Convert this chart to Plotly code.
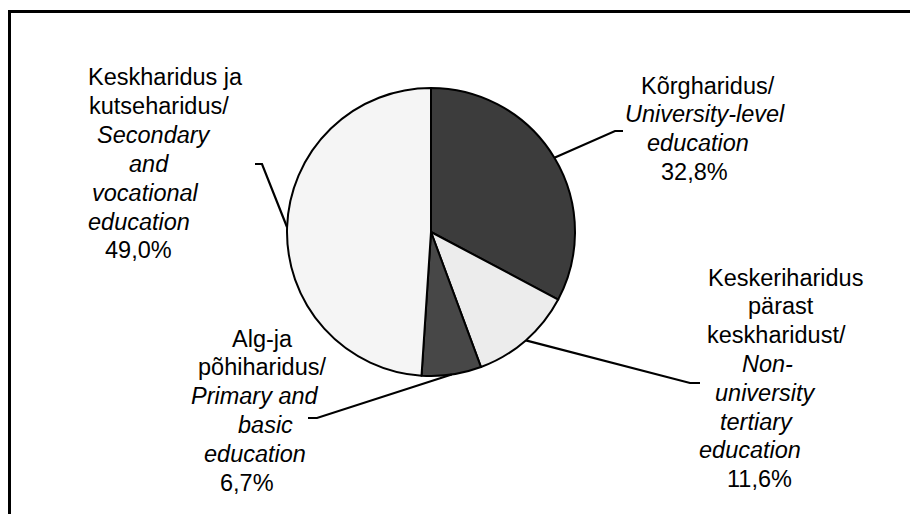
import math
import plotly.graph_objects as go

# ---- data ----
categories = [
    "Kõrgharidus/University-level education",
    "Keskeriharidus pärast keskharidust/Non-university tertiary education",
    "Alg-ja põhiharidus/Primary and basic education",
    "Keskharidus ja kutseharidus/Secondary and vocational education",
]
values = [32.8, 11.6, 6.7, 49.0]
value_labels = ["32,8%", "11,6%", "6,7%", "49,0%"]
label_lines = [
    ["Kõrgharidus/", "<i>University-level</i>", "<i>education</i>"],
    ["Keskeriharidus", "pärast", "keskharidust/", "<i>Non-</i>", "<i>university</i>",
     "<i>tertiary</i>", "<i>education</i>"],
    ["Alg-ja", "põhiharidus/", "<i>Primary and</i>", "<i>basic</i>", "<i>education</i>"],
    ["Keskharidus ja", "kutseharidus/", "<i>Secondary</i>", "<i>and</i>", "<i>vocational</i>",
     "<i>education</i>"],
]
colors = ["#3c3c3c", "#ececec", "#474747", "#f5f5f5"]

# ---- layout constants (pixels, in page coordinates) ----
W, H = 918, 514
OFF = 8  # page body margin offset
CX, CY, R = 431, 232, 144
FONT = "Liberation Sans, Arial, sans-serif"
FS = 23.5
LINE_H = 28.8
# per label: first-line baseline y, x-centers of each line (incl. value line)
label_pos = [
    (93, [708, 705, 698, 694]),
    (285, [785, 781, 776, 767, 765, 756, 750, 759]),
    (346, [262, 262, 255, 265, 255, 247]),
    (85, [165, 159, 154, 149, 145, 139, 138]),
]
# leader elbows: (elbow point, end point)
leaders = [
    ((615, 131), (623, 131)),
    ((690, 383), (700, 383)),
    ((317, 418), (308, 418)),
    ((262, 164), (255, 164)),
]


def px(x):
    return (x - OFF) / W


def py(y):
    return 1 - (y - OFF) / H


fig = go.Figure(go.Pie(
    labels=categories,
    values=values,
    sort=False,
    direction="clockwise",
    rotation=0,
    textinfo="none",
    hoverinfo="label+percent",
    marker=dict(colors=colors, line=dict(color="black", width=2)),
    domain=dict(x=[px(CX - R), px(CX + R)], y=[py(CY + R), py(CY - R)]),
    showlegend=False,
))

annotations = []
shapes = []
total = sum(values)
cum = 0.0
for i, v in enumerate(values):
    mid = (cum + v / 2) / total * 2 * math.pi
    cum += v
    ex = CX + R * math.sin(mid)
    ey = CY - R * math.cos(mid)
    (bx, by), (tx, ty) = leaders[i]
    shapes.append(dict(
        type="path", xref="paper", yref="paper",
        path=f"M {px(ex)},{py(ey)} L {px(bx)},{py(by)} L {px(tx)},{py(ty)}",
        line=dict(color="black", width=2.2),
    ))
    base, xs = label_pos[i]
    lines = label_lines[i] + [value_labels[i]]
    for j, t in enumerate(lines):
        yb = base + j * LINE_H
        annotations.append(dict(
            x=px(xs[j]), y=py(yb - 7.5), xref="paper", yref="paper",
            text=t, showarrow=False, xanchor="center", yanchor="middle",
            font=dict(family=FONT, size=FS, color="black"),
        ))

# chart border (cut off at the right and bottom)
shapes.append(dict(
    type="rect", xref="paper", yref="paper",
    x0=px(9.5), x1=px(W + 30), y0=py(H + 30), y1=py(11.5),
    line=dict(color="black", width=3), fillcolor="rgba(0,0,0,0)",
))

fig.update_layout(
    width=W, height=H,
    margin=dict(l=0, r=0, t=0, b=0),
    paper_bgcolor="white", plot_bgcolor="white",
    annotations=annotations, shapes=shapes,
    font=dict(family=FONT),
)

fig.write_html("out.html")
